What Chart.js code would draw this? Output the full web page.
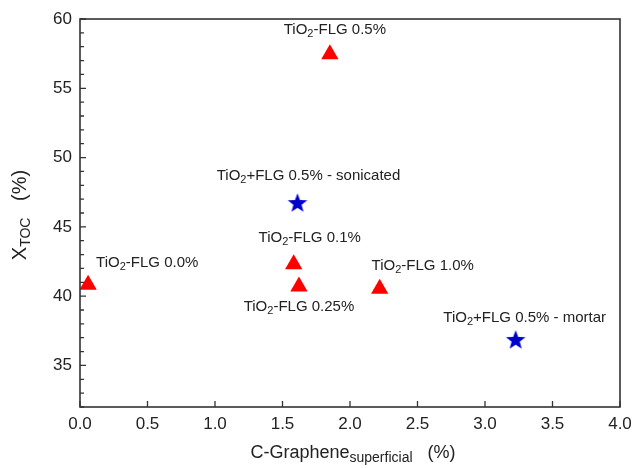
<!DOCTYPE html>
<html>
	<head>
		<meta charset="UTF-8" />
		<title>X TOC vs C-Graphene</title>
		<script src="https://cdn.jsdelivr.net/npm/chart.js@4/dist/chart.umd.min.js"></script>
		<style>
			body { margin: 0; background: #fff; }
			#wrap { width: 634px; height: 468px; }
		</style>
	</head>
	<body>
		<div id="wrap"><canvas id="tocChart" width="634" height="468"></canvas></div>

		<script>
			// TiO2-FLG samples (red triangles)
			var flgNames = ['TiO_{2}-FLG 0.0%', 'TiO_{2}-FLG 0.1%', 'TiO_{2}-FLG 0.25%', 'TiO_{2}-FLG 0.5%', 'TiO_{2}-FLG 1.0%'];
			var flgX = [0.06, 1.583, 1.622, 1.851, 2.22];
			var flgY = [40.83, 42.31, 40.69, 57.45, 40.54];

			// TiO2+FLG physical mixtures (blue stars)
			var mixNames = ['TiO_{2}+FLG 0.5% - sonicated', 'TiO_{2}+FLG 0.5% - mortar'];
			var mixX = [1.611, 3.227];
			var mixY = [46.72, 36.84];

			// axis ticks
			var xTicks = [0, 0.5, 1.0, 1.5, 2.0, 2.5, 3.0, 3.5, 4.0];
			var yTicks = [35, 40, 45, 50, 55, 60];

			// where the label sits relative to its marker (px)
			var flgLabelPos = [
				{ dx: 8, dy: -22, align: 'left' },
				{ dx: 16, dy: -26, align: 'center' },
				{ dx: 0, dy: 20, align: 'center' },
				{ dx: 5, dy: -24, align: 'center' },
				{ dx: 43, dy: -23, align: 'center' }
			];
			var mixLabelPos = [
				{ dx: 11, dy: -27, align: 'center' },
				{ dx: 9, dy: -22, align: 'center' }
			];

			var FONT = '"Liberation Sans", Arial, sans-serif';
			var TEXT = '#222';

			// 5 point star used as point style
			var star = document.createElement('canvas');
			star.width = 22;
			star.height = 22;
			var sc = star.getContext('2d');
			sc.fillStyle = '#0000cc';
			sc.beginPath();
			for (var i = 0; i < 10; i++) {
				var r = i % 2 === 0 ? 10.3 : 4.3;
				var a = -Math.PI / 2 + i * Math.PI / 5;
				var px = 11 + Math.cos(a) * r, py = 11.5 + Math.sin(a) * r;
				if (i === 0) sc.moveTo(px, py); else sc.lineTo(px, py);
			}
			sc.closePath();
			sc.fill();

			function toPoints(xs, ys) {
				return xs.map(function (x, i) { return { x: x, y: ys[i] }; });
			}

			// "TiO_{2}" -> [['TiO', false], ['2', true]]
			function parseRich(s) {
				var parts = s.split(/_\{([^}]*)\}/);
				var out = [];
				for (var i = 0; i < parts.length; i++) {
					if (parts[i] !== '') out.push([parts[i], i % 2 === 1]);
				}
				return out;
			}

			function drawRich(ctx, s, x, y, align, size, subSize, subShift) {
				var segs = parseRich(s);
				var total = 0;
				segs.forEach(function (sg) {
					ctx.font = (sg[1] ? subSize : size) + 'px ' + FONT;
					sg.w = ctx.measureText(sg[0]).width;
					total += sg.w;
				});
				var cx = align === 'center' ? x - total / 2 : x;
				ctx.textAlign = 'left';
				ctx.textBaseline = 'middle';
				segs.forEach(function (sg) {
					ctx.font = (sg[1] ? subSize : size) + 'px ' + FONT;
					ctx.fillText(sg[0], cx, sg[1] ? y + subShift : y);
					cx += sg.w;
				});
			}

			var framePlugin = {
				id: 'frame',
				afterDraw: function (chart) {
					var ctx = chart.ctx;
					var area = chart.chartArea;
					var xs = chart.scales.x, ys = chart.scales.y;
					ctx.save();

					// box
					ctx.strokeStyle = '#333';
					ctx.lineWidth = 1.6;
					ctx.strokeRect(area.left, area.top, area.right - area.left, area.bottom - area.top);

					// inward ticks
					ctx.lineWidth = 1.3;
					ctx.beginPath();
					ys.ticks.forEach(function (t) {
						var py = ys.getPixelForValue(t.value);
						var len = yTicks.indexOf(t.value) >= 0 ? 6 : 4;
						ctx.moveTo(area.left, py);
						ctx.lineTo(area.left + len, py);
					});
					xs.ticks.forEach(function (t) {
						var px = xs.getPixelForValue(t.value);
						ctx.moveTo(px, area.bottom);
						ctx.lineTo(px, area.bottom - 6);
					});
					ctx.stroke();

					// point labels
					ctx.fillStyle = TEXT;
					chart.data.datasets.forEach(function (ds, di) {
						var meta = chart.getDatasetMeta(di);
						meta.data.forEach(function (el, i) {
							var pos = ds.labelPos[i];
							drawRich(ctx, ds.names[i], el.x + pos.dx, el.y + pos.dy, pos.align, 15, 11, 4);
						});
					});

					// axis titles
					drawRich(ctx, 'C-Graphene_{superficial}   (%)', 353, 453, 'center', 18, 14, 5);
					ctx.translate(20, 215);
					ctx.rotate(-Math.PI / 2);
					drawRich(ctx, 'X_{TOC}   (%)', 0, 0, 'center', 20, 14, 6);

					ctx.restore();
				}
			};

			var tocCanvas = document.getElementById('tocChart');
			var tocChart = new Chart(tocCanvas, {
				type: 'scatter',
				data: {
					datasets: [{
						data: toPoints(flgX, flgY),
						names: flgNames,
						labelPos: flgLabelPos,
						pointStyle: 'triangle',
						pointRadius: 10,
						pointHoverRadius: 10,
						backgroundColor: '#ff0000',
						borderColor: '#ff0000',
						borderWidth: 0
					}, {
						data: toPoints(mixX, mixY),
						names: mixNames,
						labelPos: mixLabelPos,
						pointStyle: star,
						pointRadius: 10,
						backgroundColor: '#0000cc',
						borderColor: '#0000cc',
						borderWidth: 0
					}]
				},
				options: {
					responsive: false,
					animation: false,
					events: [],
					layout: { padding: { top: 19, right: 14, left: 0, bottom: 0 } },
					plugins: {
						legend: { display: false },
						tooltip: { enabled: false }
					},
					scales: {
						x: {
							type: 'linear',
							min: 0,
							max: 4,
							afterBuildTicks: function (scale) {
								scale.ticks = xTicks.map(function (v) { return { value: v }; });
							},
							ticks: {
								padding: 7,
								color: TEXT,
								font: { family: FONT, size: 17 },
								callback: function (v) { return v.toFixed(1); }
							},
							grid: { display: false, drawTicks: false },
							border: { display: false },
							afterFit: function (scale) {
								scale.height = 61;
								scale.paddingLeft = 0;
								scale.paddingRight = 0;
							}
						},
						y: {
							type: 'linear',
							min: 32,
							max: 60,
							ticks: {
								stepSize: 1,
								autoSkip: false,
								padding: 8,
								color: TEXT,
								font: { family: FONT, size: 17 },
								callback: function (v) { return yTicks.indexOf(v) >= 0 ? v : ''; }
							},
							grid: { display: false, drawTicks: false },
							border: { display: false },
							afterFit: function (scale) { scale.width = 80; }
						}
					}
				},
				plugins: [framePlugin]
			});
		</script>
	</body>
</html>
